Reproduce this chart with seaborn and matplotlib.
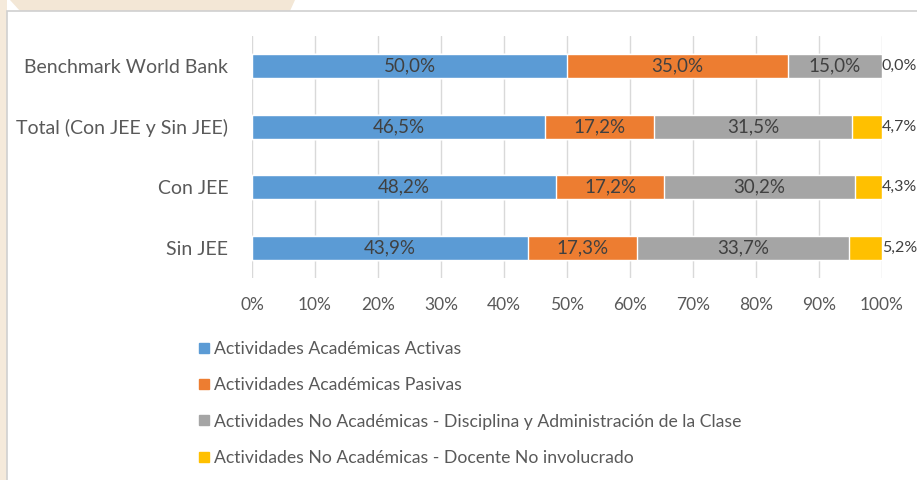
import matplotlib
matplotlib.use("Agg")
import matplotlib.pyplot as plt
import seaborn as sns
import pandas as pd
import numpy as np
from matplotlib.patches import Rectangle, Polygon
from matplotlib.lines import Line2D

categories = ["Benchmark World Bank", "Total (Con JEE y Sin JEE)", "Con JEE", "Sin JEE"]
series = ["Actividades Académicas Activas",
          "Actividades Académicas Pasivas",
          "Actividades No Académicas - Disciplina y Administración de la Clase",
          "Actividades No Académicas - Docente No involucrado"]
activas = [50.0, 46.5, 48.2, 43.9]
pasivas = [35.0, 17.2, 17.2, 17.3]
disciplina = [15.0, 31.5, 30.2, 33.7]
no_involucrado = [0.0, 4.7, 4.3, 5.2]
xticks = [0, 10, 20, 30, 40, 50, 60, 70, 80, 90, 100]
colors = ["#5b9bd5", "#ed7d31", "#a5a5a5", "#ffc000"]

sns.set_theme(style="white")
plt.rcParams['font.family'] = ['Lato', 'DejaVu Sans']

values = np.array([activas, pasivas, disciplina, no_involucrado])
# normalise to 100% stacked
values = values / values.sum(axis=0) * 100
cum = np.cumsum(values, axis=0)

fig = plt.figure(figsize=(9.17, 4.8), dpi=100)
fig.patch.set_facecolor("white")

# background decoration
fig.patches.append(Polygon([[10/917, 1], [295/917, 1], [290/917, 1-11/480], [20/917, 1-11/480]],
                           closed=True, transform=fig.transFigure, facecolor="#f3e7d6", edgecolor="none", zorder=-3))
fig.patches.append(Rectangle((0, 0), 7/917, 1, transform=fig.transFigure,
                             facecolor="#f5eadb", edgecolor="none", zorder=-3))
fig.patches.append(Rectangle((7/917, -0.01), 1, 1 - 11/480 + 0.01, transform=fig.transFigure,
                             facecolor="white", edgecolor="#d0d0d0", linewidth=1.2, zorder=-2))

ax = fig.add_axes([252/917, 1 - 278/480, 630/917, 242/480])
ax.set_zorder(2)
ax.set_facecolor("none")

for i in range(3, -1, -1):
    df = pd.DataFrame({"cat": categories, "val": cum[i]})
    sns.barplot(data=df, y="cat", x="val", orient="h", color=colors[i],
                width=0.39, saturation=1, ax=ax, zorder=3)

ax.set_xlim(0, 100)
ax.set_ylim(3.5, -0.5)
ax.set_xticks(xticks)
ax.set_xticklabels([f"{t}%" for t in xticks], color="#595959", fontsize=12.5)
ax.tick_params(axis="y", labelsize=14.0, labelcolor="#595959", length=0, pad=17)
ax.tick_params(axis="x", length=0, pad=14)
ax.set_xlabel("")
ax.set_ylabel("")
ax.grid(axis="x", color="#d9d9d9", linewidth=1, zorder=0)
for s in ax.spines.values():
    s.set_visible(False)

raw = [activas, pasivas, disciplina, no_involucrado]
for j in range(len(categories)):
    for i in range(4):
        txt = f"{raw[i][j]:.1f}%".replace(".", ",")
        if i < 3:
            center = cum[i][j] - values[i][j] / 2
            ax.text(center, j, txt, ha="center", va="center", fontsize=13.5,
                    color="#404040", zorder=5)
        else:
            ax.text(100, j, txt, ha="left", va="center", fontsize=11.5,
                    color="#404040", zorder=5, clip_on=False)

handles = [Line2D([], [], marker="s", linestyle="none", markersize=7,
                  markerfacecolor=c, markeredgecolor=c) for c in colors]
leg = fig.legend(handles, series, loc="upper left", bbox_to_anchor=(188/917, 1 - 334/480),
                 frameon=False, fontsize=12.7, labelcolor="#595959", handletextpad=0.1,
                 labelspacing=1.15, handlelength=1.0, borderaxespad=0)
leg.set_zorder(3)

fig.savefig("out.png", dpi=100)
